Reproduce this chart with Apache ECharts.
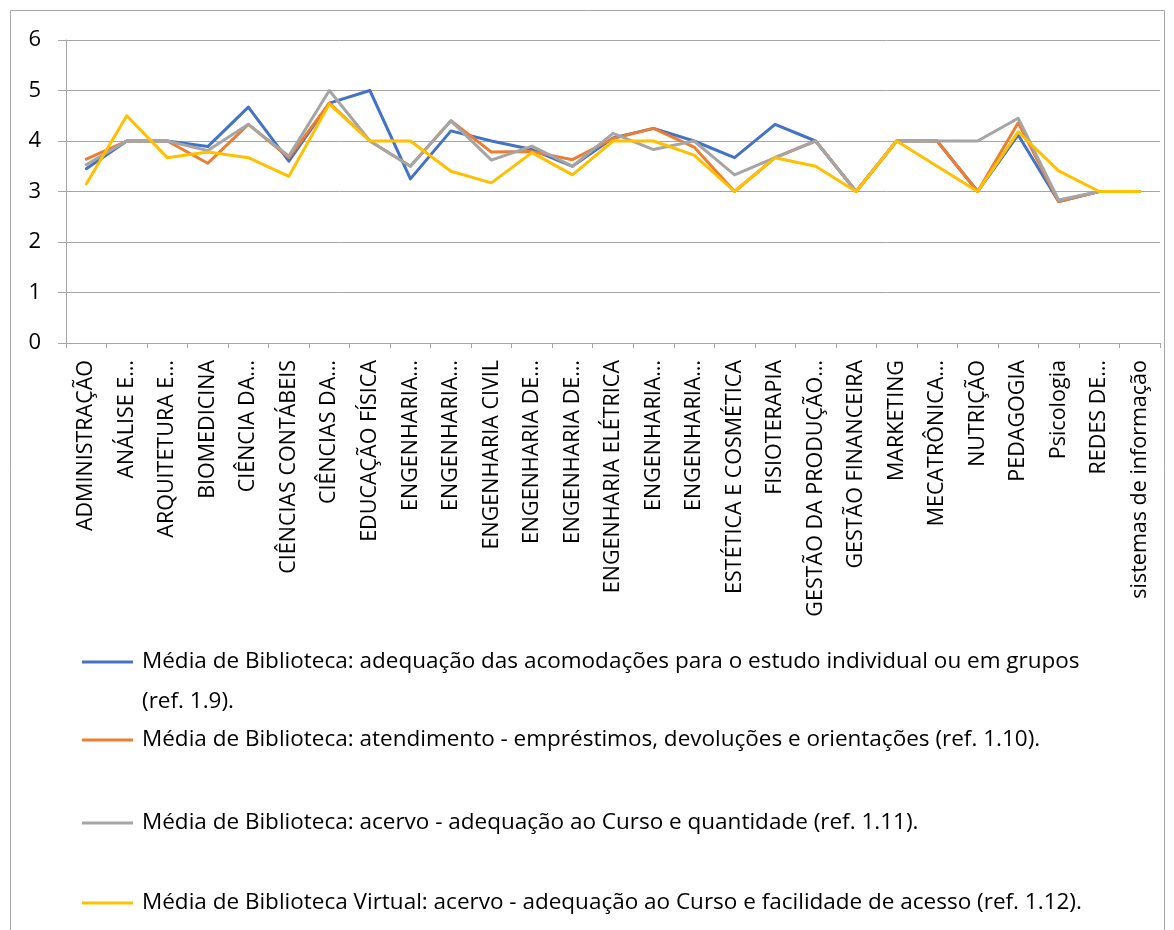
<!DOCTYPE html>
<html>
<head>
<meta charset="utf-8">
<script src="https://cdn.jsdelivr.net/npm/echarts@6/dist/echarts.min.js"></script>
<style>
html,body{margin:0;padding:0;background:#fff;}
#chart{width:1174px;height:930px;}
</style>
</head>
<body>
<div id="chart"></div>
<script>
const categories = [
  'ADMINISTRAÇÃO','ANÁLISE E…','ARQUITETURA E…','BIOMEDICINA','CIÊNCIA DA…',
  'CIÊNCIAS CONTÁBEIS','CIÊNCIAS DA…','EDUCAÇÃO FÍSICA','ENGENHARIA…','ENGENHARIA…',
  'ENGENHARIA CIVIL','ENGENHARIA DE…','ENGENHARIA DE…','ENGENHARIA ELÉTRICA','ENGENHARIA…',
  'ENGENHARIA…','ESTÉTICA E COSMÉTICA','FISIOTERAPIA','GESTÃO DA PRODUÇÃO…','GESTÃO FINANCEIRA',
  'MARKETING','MECATRÔNICA…','NUTRIÇÃO','PEDAGOGIA','Psicologia','REDES DE…','sistemas de informação'
];
const yTicks = [0, 1, 2, 3, 4, 5, 6];

const seriesNames = [
  'Média de Biblioteca: adequação das acomodações para o estudo individual ou em grupos (ref. 1.9).',
  'Média de Biblioteca: atendimento - empréstimos, devoluções e orientações (ref. 1.10).',
  'Média de Biblioteca: acervo - adequação ao Curso e quantidade (ref. 1.11).',
  'Média de Biblioteca Virtual: acervo - adequação ao Curso e facilidade de acesso (ref. 1.12).'
];
const legendLine1 = 'Média de Biblioteca: adequação das acomodações para o estudo individual ou em grupos';
const legendLine2 = '(ref. 1.9).';

const acomodacoes = [3.45, 4.0, 4.0, 3.89, 4.67, 3.6, 4.75, 5.0, 3.25, 4.2, 4.0, 3.83, 3.5, 4.06, 4.25, 4.0, 3.67, 4.33, 4.0, 3.0, 4.0, 4.0, 3.0, 4.12, 2.8, 3.0, 3.0];
const atendimento = [3.64, 4.0, 4.0, 3.56, 4.33, 3.67, 4.75, 4.0, 3.5, 4.4, 3.78, 3.79, 3.63, 4.05, 4.25, 3.88, 3.0, 3.67, 4.0, 3.0, 4.0, 4.0, 3.0, 4.36, 2.8, 3.0, 3.0];
const acervo = [3.53, 4.0, 4.0, 3.81, 4.33, 3.7, 5.0, 4.0, 3.5, 4.4, 3.62, 3.9, 3.5, 4.15, 3.83, 4.0, 3.33, 3.67, 4.0, 3.0, 4.0, 4.0, 4.0, 4.45, 2.83, 3.0, 3.0];
const virtual = [3.15, 4.5, 3.67, 3.78, 3.67, 3.3, 4.73, 4.0, 4.0, 3.4, 3.17, 3.77, 3.33, 4.0, 4.0, 3.72, 3.0, 3.67, 3.5, 3.0, 4.0, 3.5, 3.0, 4.18, 3.41, 3.0, 3.0];

const colors = ['#4472C4', '#ED7D31', '#A5A5A5', '#FFC000'];
const values = [acomodacoes, atendimento, acervo, virtual];

const FONT = '"Open Sans", sans-serif';
const TXT = '#000000';
const AXIS = '#A6A6A6';
const LEG_SIZE = 22.5;

const chart = echarts.init(document.getElementById('chart'), null, {renderer: 'canvas'});

function makeLegend(i, top, formatter) {
  const lg = {
    data: [seriesNames[i]],
    left: 82,
    top: top,
    padding: 0,
    orient: 'vertical',
    icon: 'rect',
    itemWidth: 51,
    itemHeight: 3,
    selectedMode: false,
    textStyle: {
      fontFamily: FONT,
      fontSize: LEG_SIZE,
      color: TXT,
      lineHeight: 28,
      padding: [0, 0, 0, 4]
    }
  };
  if (formatter) lg.formatter = formatter;
  return lg;
}

const option = {
  animation: false,
  backgroundColor: '#ffffff',
  color: colors,
  graphic: [{
    type: 'rect',
    shape: {x: 10.5, y: 10.5, width: 1154, height: 940},
    style: {fill: 'none', stroke: '#A6A6A6', lineWidth: 1},
    silent: true,
    z: -10
  }, {
    type: 'text',
    left: 142,
    top: 690,
    silent: true,
    style: {text: legendLine2, font: LEG_SIZE + 'px ' + FONT, fill: TXT}
  }],
  grid: {left: 66, right: 14, top: 40, bottom: 587, containLabel: false},
  xAxis: {
    type: 'category',
    data: categories,
    boundaryGap: true,
    axisLine: {show: true, lineStyle: {color: AXIS, width: 1}},
    axisTick: {show: true, length: 5, lineStyle: {color: AXIS}},
    axisLabel: {
      rotate: 90,
      interval: 0,
      margin: 17,
      fontFamily: FONT,
      fontSize: 21.5,
      color: TXT
    },
    splitLine: {show: false}
  },
  yAxis: {
    type: 'value',
    min: yTicks[0],
    max: yTicks[yTicks.length - 1],
    interval: 1,
    axisLine: {show: true, lineStyle: {color: AXIS, width: 1}},
    axisTick: {show: true, length: 8, lineStyle: {color: AXIS}},
    axisLabel: {margin: 25, fontFamily: FONT, fontSize: 22, color: TXT},
    splitLine: {show: true, lineStyle: {color: AXIS, width: 1}}
  },
  legend: [
    makeLegend(0, 648, function () { return legendLine1; }),
    makeLegend(1, 726),
    makeLegend(2, 809),
    makeLegend(3, 889)
  ],
  series: values.map(function (v, i) {
    return {
      name: seriesNames[i],
      type: 'line',
      data: v,
      symbol: 'none',
      showSymbol: false,
      lineStyle: {width: 3, color: colors[i], join: 'round', cap: 'round'},
      itemStyle: {color: colors[i]},
      emphasis: {disabled: true}
    };
  })
};

chart.setOption(option);
</script>
</body>
</html>
